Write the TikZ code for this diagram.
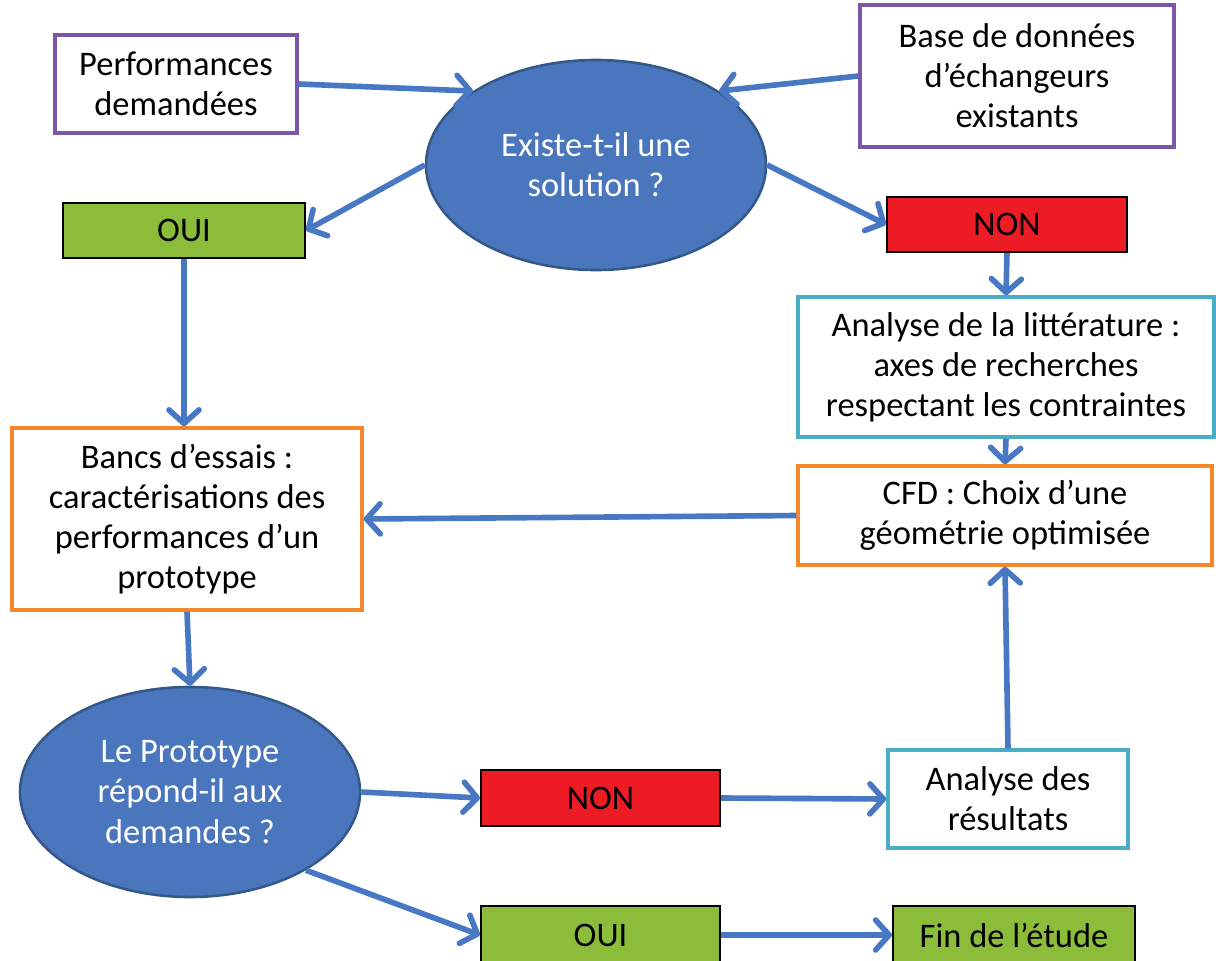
\documentclass[tikz,border=0pt]{standalone}
\usepackage{fontspec}
\setmainfont{Carlito}
\usetikzlibrary{arrows.meta,shapes.geometric}

\definecolor{flowblue}{RGB}{72,120,196}
\definecolor{ellblue}{RGB}{74,118,190}
\definecolor{elldark}{RGB}{52,88,136}
\definecolor{ouigreen}{RGB}{140,189,58}
\definecolor{nonred}{RGB}{237,28,36}
\definecolor{bordpurple}{RGB}{126,86,166}
\definecolor{bordcyan}{RGB}{75,172,198}
\definecolor{bordorange}{RGB}{245,135,42}

\begin{document}
\begin{tikzpicture}[x=0.025cm, y=-0.025cm,
	font=\fontsize{24.5}{28.5}\selectfont,
	cadre/.style={draw=#1, line width=2.4pt, fill=white, align=center, inner sep=0pt},
	oui/.style={draw=black, line width=1.4pt, fill=ouigreen, inner sep=0pt},
	non/.style={draw=black, line width=1.4pt, fill=nonred, inner sep=0pt},
	question/.style={ellipse, draw=elldark, line width=1.8pt, fill=ellblue, text=white, align=center,
		minimum width=8.5cm, minimum height=5.25cm, inner sep=0pt},
	fleche/.style={draw=flowblue, line width=4pt, -{Straight Barb[length=3.4mm,width=7.5mm,round]}}]
	\useasboundingbox (0,0) rectangle (1216,960);

	\node[cadre=bordpurple, minimum width=6.05cm, minimum height=2.45cm] (perf) at (176,84) {Performances\\demandées};
	\node[cadre=bordpurple, minimum width=7.85cm, minimum height=3.55cm] (base) at (1017,76) {Base de données\\d’échangeurs\\existants};
	\node[question] (existe) at (596,165) {Existe-t-il une\\solution ?};
	\node[oui, minimum width=6.05cm, minimum height=1.375cm] (oui1) at (184,230.5) {OUI};
	\node[non, minimum width=6cm, minimum height=1.375cm] (non1) at (1007,224.5) {NON};
	\node[cadre=bordcyan, minimum width=10.4cm, minimum height=3.5cm] (litt) at (1006,367) {Analyse de la littérature :\\axes de recherches\\respectant les contraintes};
	\node[cadre=bordorange, minimum width=10.35cm, minimum height=2.475cm] (cfd) at (1005,515.5) {CFD : Choix d’une\\géométrie optimisée};
	\node[cadre=bordorange, minimum width=8.75cm, minimum height=4.55cm] (bancs) at (187,519) {Bancs d’essais :\\caractérisations des\\performances d’un\\prototype};
	\node[question] (proto) at (190,792) {Le Prototype\\répond-il aux\\demandes ?};
	\node[non, minimum width=5.975cm, minimum height=1.4cm] (non2) at (600.5,798) {NON};
	\node[cadre=bordcyan, minimum width=6cm, minimum height=2.45cm] (result) at (1008,799) {Analyse des\\résultats};
	\node[oui, minimum width=5.975cm, minimum height=1.45cm] (oui2) at (600.5,935) {OUI};
	\node[oui, minimum width=6.05cm, minimum height=1.45cm] (fin) at (1014,935) {Fin de l’étude};

	\draw[fleche] (perf.east) -- (existe.149);
	\draw[fleche] (base.west) -- (existe.31);
	\draw[fleche] (existe.west) -- (oui1.east);
	\draw[fleche] (existe.east) -- (non1.west);
	\draw[fleche] (non1.south) -- (litt.north);
	\draw[fleche] (litt.south) -- (cfd.north);
	\draw[fleche] (cfd.west) -- (bancs.east);
	\draw[fleche] (oui1.south) -- (oui1.south |- bancs.north);
	\draw[fleche] (bancs.south) -- (proto.north);
	\draw[fleche] (proto.east) -- (non2.west);
	\draw[fleche] (non2.east) -- (result.west);
	\draw[fleche] (result.north) -- (cfd.south);
	\draw[fleche] (proto.-34) -- (oui2.west);
	\draw[fleche] (oui2.east) -- (fin.west);

\end{tikzpicture}
\end{document}
